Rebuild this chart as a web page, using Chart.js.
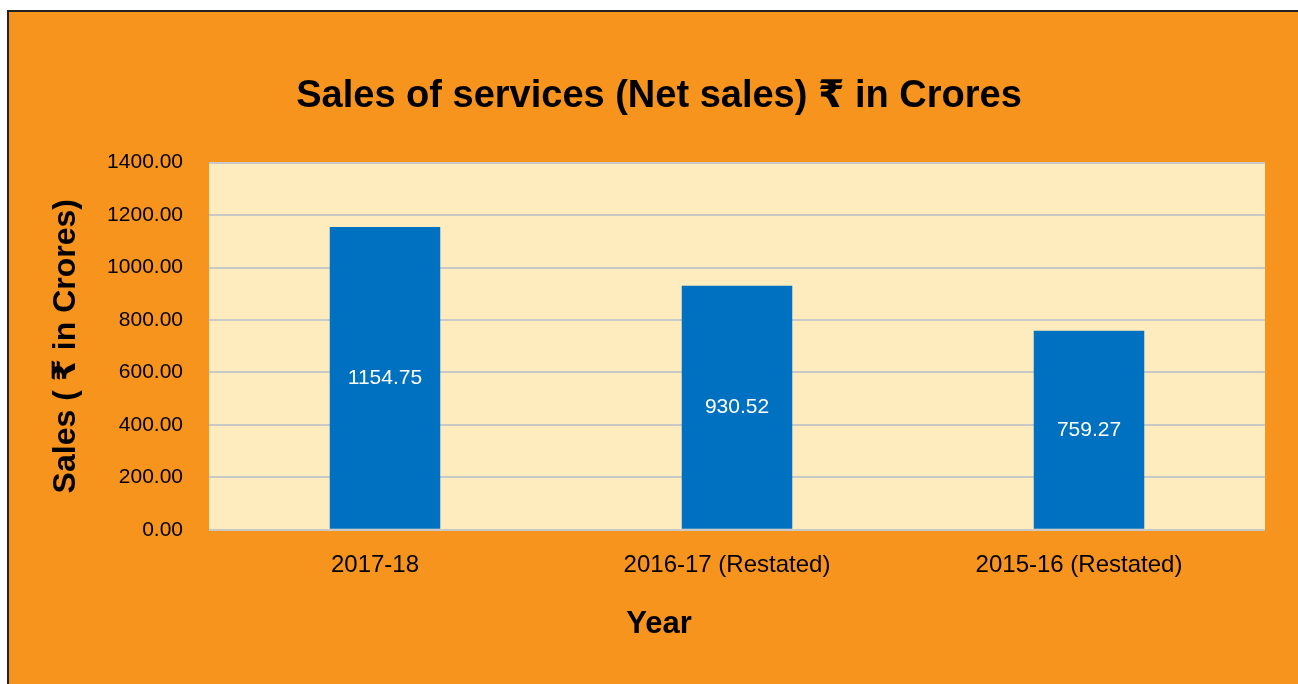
<!DOCTYPE html>
<html>
<head>
<meta charset="utf-8">
<script src="https://cdn.jsdelivr.net/npm/chart.js@4.4.1/dist/chart.umd.min.js"></script>
<style>
  html, body { margin: 0; padding: 0; background: #ffffff; width: 1298px; height: 684px; overflow: hidden; }
  #frame { position: absolute; left: 7px; top: 10px; right: 0; bottom: 0; background: #F7941E;
           border-left: 2px solid #222; border-top: 2px solid #222; }
  #c { position: absolute; left: 0; top: 0; }
</style>
</head>
<body>
<div id="frame"></div>
<canvas id="c" width="1298" height="684" style="width:1298px;height:684px"></canvas>
<script>
const categories = ["2017-18", "2016-17 (Restated)", "2015-16 (Restated)"];
const salesValues = [1154.75, 930.52, 759.27];
const yTickMin = 0;
const yTickMax = 1400;
const yTickStep = 200;
const chartTitle = "Sales of services (Net sales) \u20B9 in Crores";
const yAxisTitle = "Sales ( \u20B9 in Crores)";
const xAxisTitle = "Year";

const FONT = "'Liberation Sans', Arial, 'DejaVu Sans', sans-serif";

const plotBg = {
  id: 'plotBg',
  beforeDraw(chart) {
    const {ctx, chartArea: a} = chart;
    ctx.save();
    ctx.fillStyle = '#FEECBE';
    ctx.fillRect(a.left, a.top, a.right - a.left, a.bottom - a.top);
    ctx.restore();
  }
};

const barLabels = {
  id: 'barLabels',
  afterDatasetsDraw(chart) {
    const {ctx} = chart;
    const meta = chart.getDatasetMeta(0);
    ctx.save();
    ctx.fillStyle = '#ffffff';
    ctx.font = '21px ' + FONT;
    ctx.textAlign = 'center';
    ctx.textBaseline = 'middle';
    meta.data.forEach((bar, i) => {
      const v = chart.data.datasets[0].data[i];
      ctx.fillText(v.toFixed(2), bar.x, (bar.y + bar.base) / 2);
    });
    ctx.restore();
  }
};

new Chart(document.getElementById('c'), {
  type: 'bar',
  data: {
    labels: categories,
    datasets: [{
      data: salesValues,
      backgroundColor: '#0070C0',
      borderWidth: 0,
      barPercentage: 1,
      categoryPercentage: 0.314
    }]
  },
  options: {
    responsive: false,
    animation: false,
    devicePixelRatio: 1,
    layout: { padding: { left: 53, right: 33, top: 0, bottom: 0 } },
    plugins: {
      legend: { display: false },
      tooltip: { enabled: false },
      title: {
        display: true,
        text: chartTitle,
        color: '#000',
        font: { family: FONT, size: 38, weight: 'bold', lineHeight: 1.2 },
        padding: { top: 74, bottom: 43 }
      },
      subtitle: {
        display: true,
        position: 'bottom',
        text: xAxisTitle,
        color: '#000',
        font: { family: FONT, size: 31, weight: 'bold', lineHeight: 1.2 },
        padding: { top: 6, bottom: 41 }
      }
    },
    scales: {
      x: {
        grid: { display: false, drawTicks: false },
        border: { display: false },
        ticks: { color: '#000', font: { family: FONT, size: 24, lineHeight: 1.2 }, padding: 21, labelOffset: -10 },
        afterFit(s) { s.height = 70; }
      },
      y: {
        min: yTickMin,
        max: yTickMax,
        grid: { color: '#C8C8C8', lineWidth: 2, drawTicks: false },
        border: { display: false },
        ticks: {
          stepSize: yTickStep,
          color: '#000',
          font: { family: FONT, size: 21, lineHeight: 1.2 },
          padding: 26,
          callback: v => Number(v).toFixed(2)
        },
        title: {
          display: true,
          text: yAxisTitle,
          color: '#000',
          font: { family: FONT, size: 32, weight: 'bold', lineHeight: 0.75 },
          padding: { top: 1, bottom: 0 }
        },
        afterFit(s) { s.width = 156; }
      }
    }
  },
  plugins: [plotBg, barLabels]
});
</script>
</body>
</html>
